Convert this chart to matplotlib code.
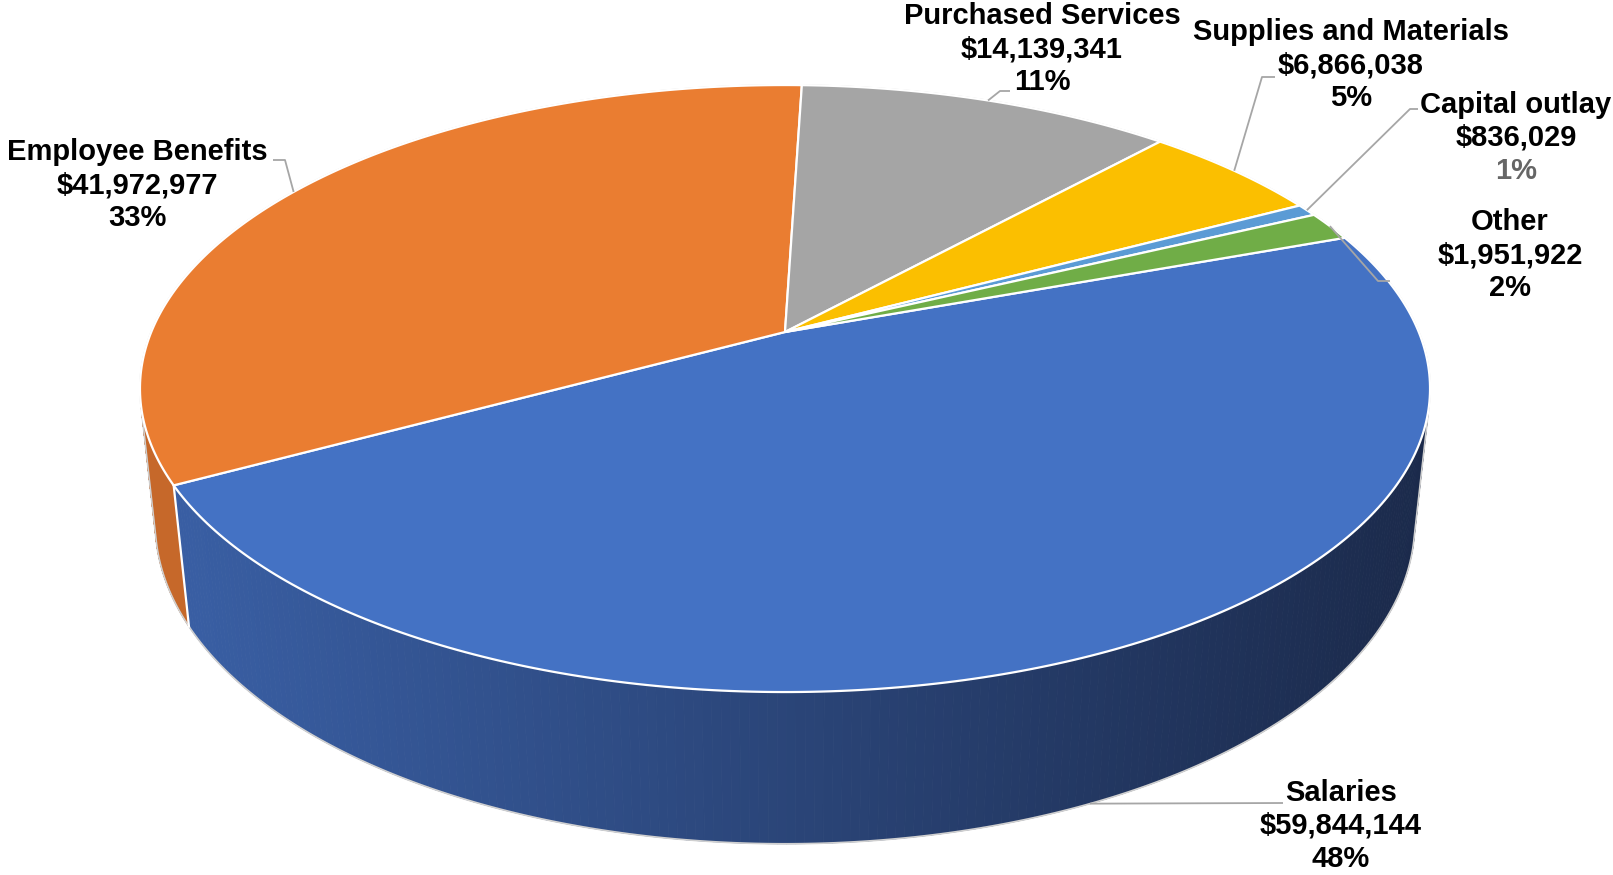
import numpy as np
import matplotlib
matplotlib.use("Agg")
import matplotlib.pyplot as plt
from matplotlib.patches import Polygon
from matplotlib.collections import PolyCollection
from matplotlib.colors import to_rgb

# Expenditure by object
categories = ["Salaries", "Employee Benefits", "Purchased Services",
              "Supplies and Materials", "Capital outlay", "Other"]
amounts = [59844144, 41972977, 14139341, 6866038, 836029, 1951922]

top_colors = ["#4472c4", "#ea7d31", "#a5a5a5", "#fbbf00", "#5b9bd5", "#70ad47"]
side_colors = [("#3a60a6", "#1b2a4b"), ("#c6682a", "#c6682a"), ("#848484", "#848484"),
               ("#c99a00", "#c99a00"), ("#4a7db0", "#4a7db0"), ("#5a8a3a", "#5a8a3a")]
pct_colors = ["black", "black", "black", "black", "#666666", "black"]

# label block centre x, line y's, and leader elbow / end points
label_x = [1341, 137, 1042, 1351, 1516, 1510]
label_y = [793, 152, 16, 32, 105, 222]
line_gap = 33
leader_elbow = [(1283, 803), (285, 160), (1000, 91), (1262, 77), (1410, 109), (1378, 281)]
leader_end = [(1283, 803), (273, 160), (1010, 91), (1275, 77), (1418, 109), (1390, 281)]
anchor_on_side = [True, False, False, False, False, False]

# perspective camera looking down at a unit-radius disc
cam_h, cam_d = 2.2, 4.22
thick = 0.241
focal = 3016
cx, cy = 785, 332
start_deg = 20
cam_n = np.hypot(cam_h, cam_d)


def project(x, y, z):
    zc = (-(y - cam_h) * cam_h + (z + cam_d) * cam_d) / cam_n
    yc = ((y - cam_h) * cam_d + (z + cam_d) * cam_h) / cam_n
    return cx + focal * x / zc, cy - focal * yc / zc


def rim(theta, y=0.0):
    theta = np.asarray(theta)
    return project(np.cos(theta), y, np.sin(theta))


shares = np.array(amounts) / np.sum(amounts)
spans = shares * 2 * np.pi
starts = np.deg2rad(start_deg) - np.concatenate([[0], np.cumsum(spans)[:-1]])
ends = starts - spans

# visible (front-facing) part of the side wall
sil = np.arcsin(1 / cam_d)
front_lo, front_hi = -np.pi + sil, -sil

fig = plt.figure(figsize=(16.13, 8.75), dpi=100)
ax = fig.add_axes([0, 0, 1, 1])
ax.set_xlim(0, 1613)
ax.set_ylim(875, 0)
ax.axis("off")

xl = rim(front_lo)[0]
xr = rim(front_hi)[0]

for i in range(len(amounts)):
    lo, hi = max(ends[i], front_lo), min(starts[i], front_hi)
    if lo >= hi:
        continue
    th = np.linspace(lo, hi, 200)
    tx, ty = rim(th, 0.0)
    bx, by = rim(th, -thick)
    c0, c1 = np.array(to_rgb(side_colors[i][0])), np.array(to_rgb(side_colors[i][1]))
    quads, cols = [], []
    for k in range(len(th) - 1):
        quads.append([(tx[k], ty[k]), (tx[k + 1], ty[k + 1]),
                      (bx[k + 1], by[k + 1]), (bx[k], by[k])])
        t = np.clip(((tx[k] + tx[k + 1]) / 2 - xl) / (xr - xl), 0, 1)
        cols.append(c0 + (c1 - c0) * t)
    ax.add_collection(PolyCollection(quads, facecolors=cols, edgecolors=cols,
                                     linewidths=0.6, zorder=1))

# white edge where benefits meets salaries on the wall
bnd = starts[1]
ex = [rim(bnd, 0.0)[0], rim(bnd, -thick)[0]]
ey = [rim(bnd, 0.0)[1], rim(bnd, -thick)[1]]
ax.plot(ex, ey, color="white", lw=1.6, zorder=2)

# outer silhouette
th_back = np.linspace(front_hi, front_lo + 2 * np.pi, 300)
th_front = np.linspace(front_lo, front_hi, 300)
ox = np.concatenate([rim(th_back)[0], rim(th_front, -thick)[0]])
oy = np.concatenate([rim(th_back)[1], rim(th_front, -thick)[1]])
ax.add_patch(Polygon(np.column_stack([ox, oy]), closed=True, fill=False,
                     edgecolor="#d0d0d0", lw=1.2, zorder=1.5))

# top face slices
cx0, cy0 = project(0.0, 0.0, 0.0)
for i in range(len(amounts)):
    th = np.linspace(starts[i], ends[i], max(int(spans[i] * 80), 4))
    px, py = rim(th)
    pts = np.column_stack([np.r_[cx0, px], np.r_[cy0, py]])
    ax.add_patch(Polygon(pts, closed=True, facecolor=top_colors[i],
                         edgecolor="white", lw=1.6, joinstyle="round", zorder=3))

# leader lines and labels
total_pct = np.round(shares * 100).astype(int)
for i, name in enumerate(categories):
    mid = (starts[i] + ends[i]) / 2
    ax_, ay_ = rim(mid, -thick if anchor_on_side[i] else 0.0)
    lx = [float(ax_), leader_elbow[i][0], leader_end[i][0]]
    ly = [float(ay_), leader_elbow[i][1], leader_end[i][1]]
    ax.plot(lx, ly, color="#a6a6a6", lw=1.3, zorder=4, solid_capstyle="butt")
    lines = [name, f"${amounts[i]:,}", f"{total_pct[i]}%"]
    for j, txt in enumerate(lines):
        ax.text(label_x[i], label_y[i] + j * line_gap, txt, ha="center", va="center",
                fontsize=21, fontweight="bold",
                family=["Liberation Sans", "DejaVu Sans"],
                color=pct_colors[i] if j == 2 else "black", zorder=5)

fig.savefig("out.png", dpi=100, facecolor="white")
